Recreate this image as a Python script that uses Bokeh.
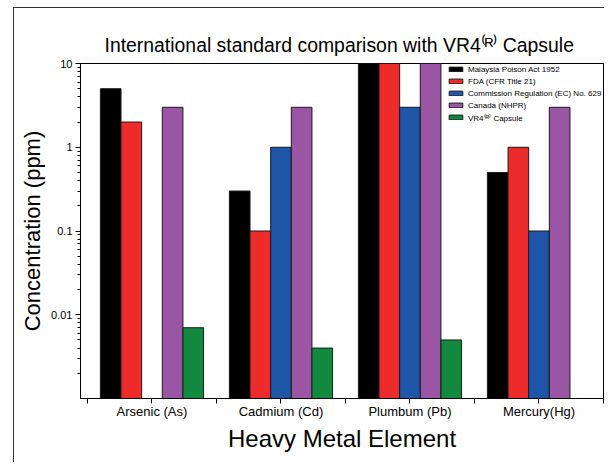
import numpy as np
from bokeh.plotting import figure
from bokeh.models import ColumnDataSource, Range1d, FixedTicker, Legend, LegendItem, Title
from bokeh.transform import dodge
from bokeh.embed import file_html
from bokeh.resources import INLINE

# ---- data ----
elements = ["Arsenic (As)", "Cadmium (Cd)", "Plumbum (Pb)", "Mercury(Hg)"]
malaysia = [5, 0.3, 10, 0.5]
fda = [2, 0.1, 10, 1]
ec = [np.nan, 1, 3, 0.1]
canada = [3, 3, 10, 3]
vr4 = [0.007, 0.004, 0.005, np.nan]

series_keys = ["malaysia", "fda", "ec", "canada", "vr4"]
series_names = ["Malaysia Poison Act 1952", "FDA (CFR Title 21)",
                "Commission Regulation (EC) No. 629", "Canada (NHPR)",
                "VR4\u207d\u1d3f\u207e Capsule"]
series_colors = ["#000000", "#EE2B2B", "#1F55A6", "#9A55A4", "#13893F"]

y_ticks = [0.01, 0.1, 1, 10]
y_tick_labels = ["0.01", "0.1", "1", "10"]

FONT = "Liberation Sans"

centers = [i + 0.5 for i in range(len(elements))]
boundaries = [float(i) for i in range(len(elements) + 1)]

source = ColumnDataSource(dict(x=centers, malaysia=malaysia, fda=fda, ec=ec,
                               canada=canada, vr4=vr4))

p = figure(width=591, height=455,
           x_range=Range1d(-0.054, 4), y_range=Range1d(0.001, 10),
           y_axis_type="log", output_backend="svg", toolbar_location=None,
           min_border_left=66, min_border_right=2, min_border_top=55,
           min_border_bottom=65)
p.styles = {"border-left": "1px solid #333", "border-top": "1px solid #333",
            "margin-left": "13px", "margin-top": "7px"}

bar_w = 0.16
offsets = [-0.32, -0.16, 0.0, 0.16, 0.32]
items = []
for key, name, col, off in zip(series_keys, series_names, series_colors, offsets):
    r = p.vbar(x=dodge("x", off), top=key, bottom=1e-4, width=bar_w, source=source,
               fill_color=col, line_color="#1a1a1a", line_width=1)
    items.append(LegendItem(label=name, renderers=[r]))

legend = Legend(items=items, location=(367, 275), padding=0, margin=0,
                spacing=0, label_height=12, glyph_height=6, glyph_width=17,
                label_standoff=4, label_text_font=FONT, label_text_font_size="8px",
                label_text_color="black",
                background_fill_alpha=0, border_line_alpha=0)
p.add_layout(legend)

p.title = Title(text="International standard comparison with VR4\u207d\u1d3f\u207e Capsule",
                align="left", offset=24, standoff=16, text_font=FONT,
                text_font_size="19.4px", text_font_style="normal", text_color="black")

p.xgrid.visible = False
p.ygrid.visible = False
p.outline_line_color = "black"
p.outline_line_width = 1
p.background_fill_color = "white"
p.border_fill_color = "white"

xa = p.xaxis[0]
xa.ticker = FixedTicker(ticks=centers, minor_ticks=boundaries)
xa.major_label_overrides = {c: n for c, n in zip(centers, elements)}
xa.major_tick_out = 5
xa.major_tick_in = 0
xa.minor_tick_out = 5
xa.minor_tick_in = 0
xa.major_tick_line_color = "black"
xa.minor_tick_line_color = "black"
xa.major_label_standoff = 0
xa.major_label_text_font = FONT
xa.major_label_text_font_size = "13px"
xa.major_label_text_color = "black"
xa.axis_label = "Heavy Metal Element"
xa.axis_label_text_font = FONT
xa.axis_label_text_font_size = "24px"
xa.axis_label_text_font_style = "normal"
xa.axis_label_text_color = "black"
xa.axis_label_standoff = 3
xa.axis_line_color = "black"

ya = p.yaxis[0]
minor = [m * 10.0 ** e for e in (-3, -2, -1, 0) for m in range(2, 10)]
ya.ticker = FixedTicker(ticks=y_ticks, minor_ticks=minor)
ya.major_label_overrides = {t: l for t, l in zip(y_ticks, y_tick_labels)}
ya.major_tick_out = 5
ya.major_tick_in = 0
ya.minor_tick_out = 3
ya.minor_tick_in = 0
ya.major_tick_line_color = "black"
ya.minor_tick_line_color = "black"
ya.major_label_standoff = 3
ya.major_label_text_font = FONT
ya.major_label_text_font_size = "11px"
ya.major_label_text_color = "black"
ya.axis_label = "Concentration (ppm)"
ya.axis_label_text_font = FONT
ya.axis_label_text_font_size = "22px"
ya.axis_label_text_font_style = "normal"
ya.axis_label_text_color = "black"
ya.axis_label_standoff = 3
ya.axis_line_color = "black"

open("out.html", "w").write(file_html(p, INLINE))
